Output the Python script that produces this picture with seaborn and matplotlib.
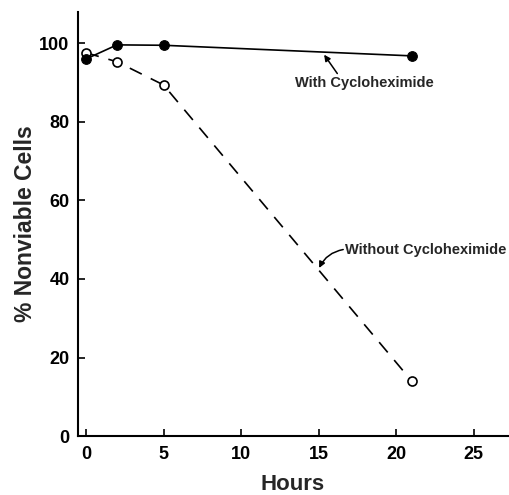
import matplotlib
matplotlib.use("Agg")
import matplotlib.pyplot as plt
import seaborn as sns
import numpy as np

# Data
hours = [0, 2, 5, 21]
with_chx = [96.0, 99.6, 99.5, 96.8]
without_chx = [97.6, 95.3, 89.4, 14.0]
x_ticks = [0, 5, 10, 15, 20, 25]
y_ticks = [0, 20, 40, 60, 80, 100]
label_with = "With Cycloheximide"
label_without = "Without Cycloheximide"

sns.set_style("ticks")
plt.rcParams['font.family'] = ['Liberation Sans', 'DejaVu Sans']

fig = plt.figure(figsize=(5.09, 4.95), dpi=100)
ax = fig.add_axes([0.153, 0.119, 0.845, 0.857])

sns.lineplot(x=hours, y=without_chx, ax=ax, color='black', linewidth=1.2,
             linestyle=(0, (8, 6)), marker='o', markersize=6.5,
             markerfacecolor='white', markeredgecolor='black',
             markeredgewidth=1.2, zorder=2)
sns.lineplot(x=hours, y=with_chx, ax=ax, color='black', linewidth=1.2,
             marker='o', markersize=7, markerfacecolor='black',
             markeredgecolor='black', zorder=3)

ax.set_xlim(-0.52, 27.2)
ax.set_ylim(0, 108)
ax.set_xticks(x_ticks)
ax.set_yticks(y_ticks)
ax.tick_params(direction='in', length=5, width=1.2, labelsize=13, pad=6, colors='black')
ax.tick_params(axis='x', pad=7)
for lab in ax.get_xticklabels() + ax.get_yticklabels():
    lab.set_fontweight('bold')

for side in ['top', 'right']:
    ax.spines[side].set_visible(False)
for side in ['left', 'bottom']:
    ax.spines[side].set_linewidth(1.5)
    ax.spines[side].set_color('black')

ax.set_xlabel("Hours", fontsize=16, fontweight='bold', labelpad=8)
ax.set_ylabel("% Nonviable Cells", fontsize=16.5, fontweight='bold', labelpad=2)

ax.text(13.48, 89.9, label_with, fontsize=10.5, fontweight='bold', va='center', ha='left')
ax.annotate('', xy=(15.35, 97.1), xytext=(16.2, 92.3),
            arrowprops=dict(arrowstyle='-|>', color='black', lw=1.1,
                            mutation_scale=9, shrinkA=0, shrinkB=0))

ax.text(16.7, 47.4, label_without, fontsize=10.5, fontweight='bold', va='center', ha='left')
ax.annotate('', xy=(15.03, 42.8), xytext=(16.58, 47.5),
            arrowprops=dict(arrowstyle='-|>', color='black', lw=1.1,
                            mutation_scale=9, shrinkA=0, shrinkB=0,
                            connectionstyle='arc3,rad=0.25'))

fig.savefig("out.png", dpi=100)
